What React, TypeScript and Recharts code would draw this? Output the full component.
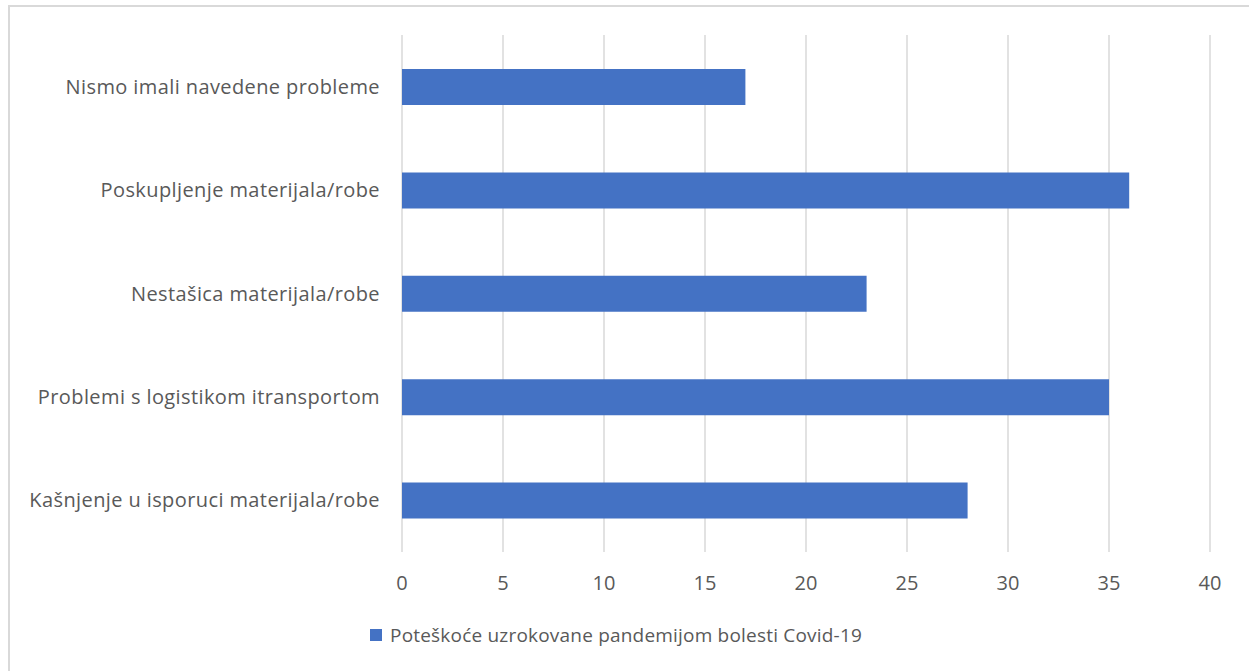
import React from 'react';
import { BarChart, Bar, XAxis, YAxis, CartesianGrid } from 'recharts';

const categories = [
  'Nismo imali navedene probleme',
  'Poskupljenje materijala/robe',
  'Nestašica materijala/robe',
  'Problemi s logistikom itransportom',
  'Kašnjenje u isporuci materijala/robe',
];
const values = [17, 36, 23, 35, 28];
const xTicks = [0, 5, 10, 15, 20, 25, 30, 35, 40];
const seriesName = 'Poteškoće uzrokovane pandemijom bolesti Covid-19';

const data = categories.map((name, i) => ({ name, value: values[i] }));

const font = '"Open Sans", sans-serif';
const textColor = '#595959';
const barColor = '#4472C4';

export default function App() {
  return (
    <div
      style={{
        position: 'absolute',
        left: 0,
        top: 0,
        width: 1249,
        height: 671,
        overflow: 'hidden',
        background: '#fff',
      }}
    >
      <div
        style={{
          position: 'absolute',
          left: 8,
          top: 5,
          width: 1300,
          height: 720,
          border: '2px solid #d9d9d9',
          boxSizing: 'border-box',
        }}
      />
      <div style={{ position: 'absolute', left: 0, top: 0 }}>
        <BarChart
          width={1249}
          height={671}
          data={data}
          layout="vertical"
          margin={{ top: 35, right: 39, bottom: 79, left: 0 }}
          barSize={36}
        >
          <CartesianGrid horizontal={false} stroke="#d9d9d9" strokeWidth={1.5} />
          <XAxis
            type="number"
            domain={[0, 40]}
            ticks={xTicks}
            axisLine={false}
            tickLine={false}
            tickSize={0}
            tickMargin={24}
            height={40}
            tick={{ fill: textColor, fontSize: 20, fontFamily: font }}
          />
          <YAxis
            type="category"
            dataKey="name"
            width={402}
            axisLine={false}
            tickLine={false}
            tickSize={0}
            tickMargin={22}
            tick={{ fill: textColor, fontSize: 20, fontFamily: font, letterSpacing: 0.4 }}
          />
          <Bar dataKey="value" name={seriesName} fill={barColor} isAnimationActive={false} />
        </BarChart>
      </div>
      <div
        style={{
          position: 'absolute',
          left: 370,
          top: 620,
          height: 30,
          display: 'flex',
          alignItems: 'center',
          fontFamily: font,
          fontSize: 19,
          letterSpacing: 0.2,
          color: textColor,
          whiteSpace: 'nowrap',
        }}
      >
        <span
          style={{
            display: 'inline-block',
            width: 12,
            height: 12,
            background: barColor,
            marginRight: 8,
          }}
        />
        <span>{seriesName}</span>
      </div>
    </div>
  );
}
